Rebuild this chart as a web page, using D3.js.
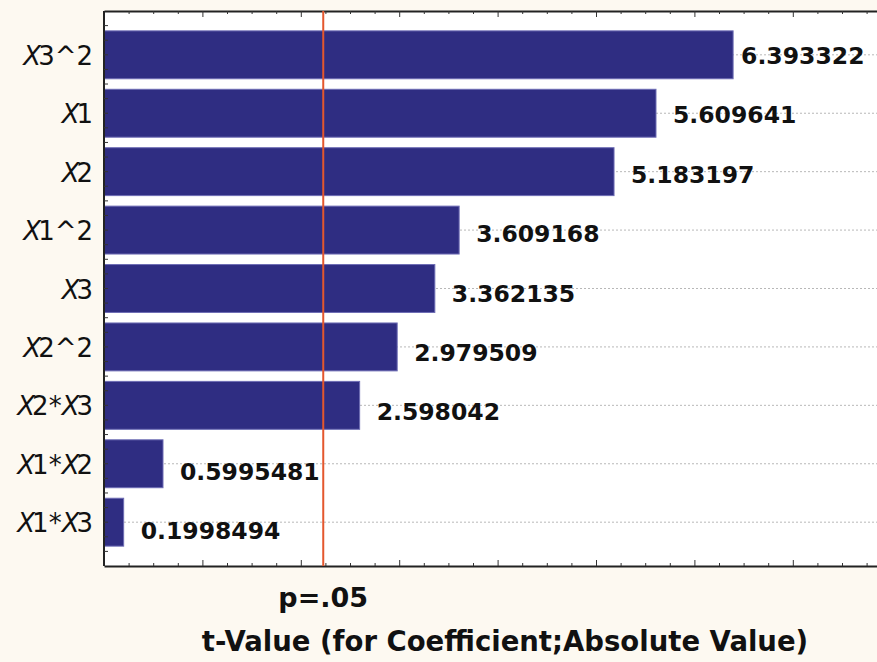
<!DOCTYPE html>
<html>
<head>
<meta charset="utf-8">
<script src="https://cdn.jsdelivr.net/npm/d3@7"></script>
<style>
  body { margin: 0; background: #fdf9f1; }
  svg { display: block; }
</style>
</head>
<body>
<div id="chart"></div>
<script>
// effects, largest first (pareto order)
var effects = ["X3^2", "X1", "X2", "X1^2", "X3", "X2^2", "X2*X3", "X1*X2", "X1*X3"];
var tValues = [6.393322, 5.609641, 5.183197, 3.609168, 3.362135, 2.979509, 2.598042, 0.5995481, 0.1998494];
var valueLabels = ["6.393322", "5.609641", "5.183197", "3.609168", "3.362135", "2.979509", "2.598042", "0.5995481", "0.1998494"];
var pCrit = 2.2281; // t value for p=.05
var pLabel = "p=.05";
var xTitle = "t-Value (for Coefficient;Absolute Value)";

var svg_dx = 877,
  svg_dy = 662,
  plot = { left: 104, top: 11, bottom: 566 };

var x = d3.scaleLinear().domain([0, 8]).range([plot.left, plot.left + 8 * 98.4]);
var y = d3.scalePoint().domain(effects).range([plot.top, plot.bottom]).padding(0.75);
var step = y.step(),
  barH = step * 0.82;

var svg = d3.select("#chart")
  .append("svg")
  .attr("width", svg_dx)
  .attr("height", svg_dy);

// white plot area
svg.append("rect")
  .attr("x", plot.left)
  .attr("y", plot.top)
  .attr("width", x.range()[1] - plot.left)
  .attr("height", plot.bottom - plot.top)
  .attr("fill", "#ffffff");

// dotted grid lines at each effect
svg.append("g")
  .selectAll("line")
  .data(effects)
  .enter()
  .append("line")
  .attr("x1", plot.left)
  .attr("x2", x.range()[1])
  .attr("y1", d => y(d))
  .attr("y2", d => y(d))
  .attr("stroke", "#b8b8b8")
  .attr("stroke-width", 1)
  .attr("stroke-dasharray", "2,2");

// bars
svg.append("g")
  .selectAll("rect")
  .data(effects)
  .enter()
  .append("rect")
  .attr("x", x(0))
  .attr("y", d => y(d) - barH / 2)
  .attr("width", (d, i) => x(tValues[i]) - x(0))
  .attr("height", barH)
  .attr("fill", "#2f2d82")
  .attr("stroke", "#6d6cb4")
  .attr("stroke-width", 1);

// value labels (they sit a bit lower the further down the chart)
svg.append("g")
  .selectAll("text")
  .data(effects)
  .enter()
  .append("text")
  .attr("x", (d, i) => x(tValues[i]) + (i === 0 ? 8 : 17))
  .attr("y", (d, i) => y(d) + 9 + i)
  .attr("font-family", "'DejaVu Sans', Verdana, sans-serif")
  .attr("font-weight", "bold")
  .attr("font-size", "23.5px")
  .attr("fill", "#111")
  .text((d, i) => valueLabels[i]);

// bottom / top axes: ticks every 0.25, longer at integers, pointing inward
var qTicks = d3.range(0, 8.01, 0.25);
var bottomAxis = d3.axisBottom(x).tickValues(qTicks).tickFormat("").tickSizeOuter(0)
  .tickSizeInner(-3);
var topAxis = d3.axisTop(x).tickValues(qTicks).tickFormat("").tickSizeOuter(0)
  .tickSizeInner(-3);

var gb = svg.append("g").attr("transform", "translate(0," + plot.bottom + ")").call(bottomAxis);
var gt = svg.append("g").attr("transform", "translate(0," + plot.top + ")").call(topAxis);
[gb, gt].forEach(function(g, k) {
  g.select(".domain").attr("stroke", "#222").attr("stroke-width", 2);
  g.selectAll(".tick line")
    .attr("stroke", "#333")
    .attr("y2", d => (Number.isInteger(d) ? 6 : 3) * (k === 0 ? -1 : 1));
});

// left axis: small ticks every quarter step
var leftTicks = d3.range(-3, effects.length * 4 - 1).map(k => y(effects[0]) + k * step / 4)
  .filter(v => v > plot.top + 2 && v < plot.bottom - 2);
var gl = svg.append("g");
gl.append("line")
  .attr("x1", plot.left).attr("x2", plot.left)
  .attr("y1", plot.top).attr("y2", plot.bottom)
  .attr("stroke", "#222").attr("stroke-width", 2);
gl.selectAll("line.tk")
  .data(leftTicks)
  .enter()
  .append("line")
  .attr("class", "tk")
  .attr("x1", plot.left).attr("x2", plot.left + 4)
  .attr("y1", d => d).attr("y2", d => d)
  .attr("stroke", "#333");

// category labels, the X is italic
var cat = svg.append("g")
  .selectAll("text")
  .data(effects)
  .enter()
  .append("text")
  .attr("x", 93)
  .attr("y", d => y(d) + 10)
  .attr("text-anchor", "end")
  .attr("font-family", "'DejaVu Sans', Verdana, sans-serif")
  .attr("font-size", "26px")
  .attr("fill", "#111");
cat.each(function(d) {
  var t = d3.select(this);
  d.split(/(X)/).filter(s => s.length).forEach(function(s) {
    t.append("tspan")
      .attr("font-style", s === "X" ? "italic" : "normal")
      .attr("letter-spacing", s === "X" ? "-3px" : "0px")
      .text(s);
  });
});

// p = .05 line
svg.append("line")
  .attr("x1", x(pCrit)).attr("x2", x(pCrit))
  .attr("y1", plot.top).attr("y2", plot.bottom)
  .attr("stroke", "#e4572e")
  .attr("stroke-width", 2);

svg.append("text")
  .attr("x", x(pCrit))
  .attr("y", 607)
  .attr("text-anchor", "middle")
  .attr("font-family", "'DejaVu Sans', Verdana, sans-serif")
  .attr("font-weight", "bold")
  .attr("font-size", "27px")
  .attr("fill", "#111")
  .text(pLabel);

svg.append("text")
  .attr("x", 505)
  .attr("y", 651)
  .attr("text-anchor", "middle")
  .attr("font-family", "'DejaVu Sans', Verdana, sans-serif")
  .attr("font-weight", "bold")
  .attr("font-size", "27.5px")
  .attr("fill", "#111")
  .text(xTitle);
</script>
</body>
</html>
